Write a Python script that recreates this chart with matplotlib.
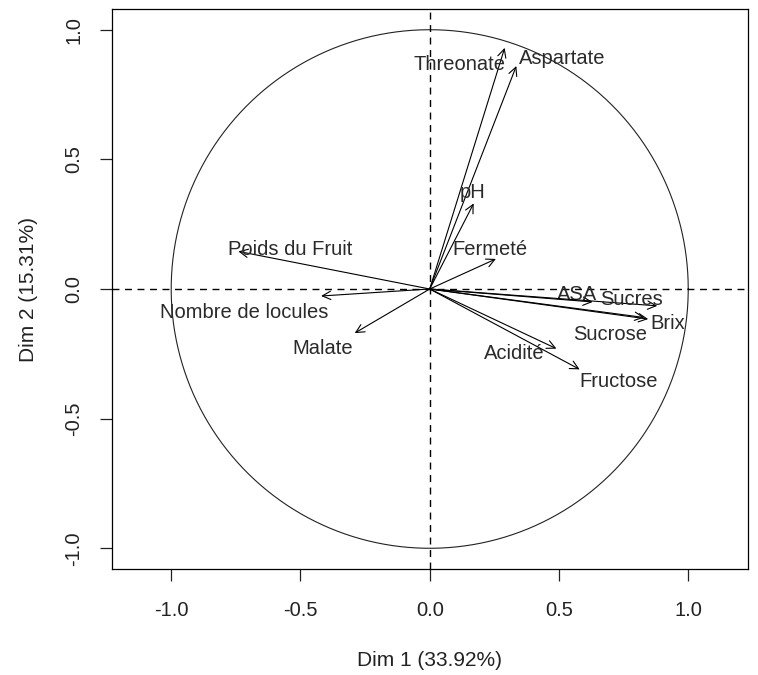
import numpy as np
import matplotlib
matplotlib.use('Agg')
import matplotlib.pyplot as plt

plt.rcParams['font.family'] = ['Liberation Sans', 'DejaVu Sans']

# variable coordinates on Dim 1 / Dim 2
variables = ['Threonate', 'Aspartate', 'pH', 'Fermeté', 'Poids du Fruit',
             'Nombre de locules', 'Malate', 'ASA', 'Sucres', 'Brix',
             'Sucrose', 'Acidité', 'Fructose']
dim1 = [0.29, 0.335, 0.17, 0.256, -0.74, -0.42, -0.29, 0.63, 0.88, 0.845, 0.83, 0.49, 0.58]
dim2 = [0.93, 0.86, 0.33, 0.116, 0.145, -0.027, -0.17, -0.05, -0.065, -0.116, -0.11, -0.23, -0.31]

# where each label sits (label centre, data units)
label_x = [0.116, 0.512, 0.167, 0.233, -0.539, -0.717, -0.415, 0.570, 0.779, 0.919, 0.698, 0.329, 0.729]
label_y = [0.864, 0.888, 0.372, 0.151, 0.151, -0.089, -0.229, -0.023, -0.039, -0.132, -0.174, -0.248, -0.357]

xlabel = 'Dim 1 (33.92%)'
ylabel = 'Dim 2 (15.31%)'
ticks = [-1.0, -0.5, 0.0, 0.5, 1.0]

fig = plt.figure(figsize=(7.58, 6.75), dpi=100)
ax = fig.add_axes([0.1474, 0.157, 0.839, 0.8297])

ax.set_xlim(-1.23, 1.23)
ax.set_ylim(-1.08, 1.08)

# correlation circle
t = np.linspace(0, 2 * np.pi, 400)
ax.plot(np.cos(t), np.sin(t), color='#222222', lw=0.8)

ax.axhline(0, color='black', lw=1, ls=(0, (5, 4)))
ax.axvline(0, color='black', lw=1, ls=(0, (5, 4)))

for name, x, y, lx, ly in zip(variables, dim1, dim2, label_x, label_y):
    ax.annotate('', xy=(x, y), xytext=(0, 0),
                arrowprops=dict(arrowstyle='->,head_length=0.6,head_width=0.3',
                                color='black', lw=0.8, shrinkA=0, shrinkB=0))
    ax.text(lx, ly, name, ha='center', va='center', fontsize=14.5, color='#2a2a2a')

ax.set_xticks(ticks)
ax.set_yticks(ticks)
ax.set_xticklabels([f'{v:.1f}' for v in ticks])
ax.set_yticklabels([f'{v:.1f}' for v in ticks], rotation=90, va='center')
ax.tick_params(direction='out', length=8.6, width=0.9, labelsize=14.5, colors='#222222')
ax.tick_params(axis='x', pad=14.4)
ax.tick_params(axis='y', pad=12)
for s in ax.spines.values():
    s.set_linewidth(0.9)

ax.set_xlabel(xlabel, fontsize=15, labelpad=22, color='#222222')
ax.set_ylabel(ylabel, fontsize=15, labelpad=19, color='#222222')

fig.savefig('out.png', dpi=100)
